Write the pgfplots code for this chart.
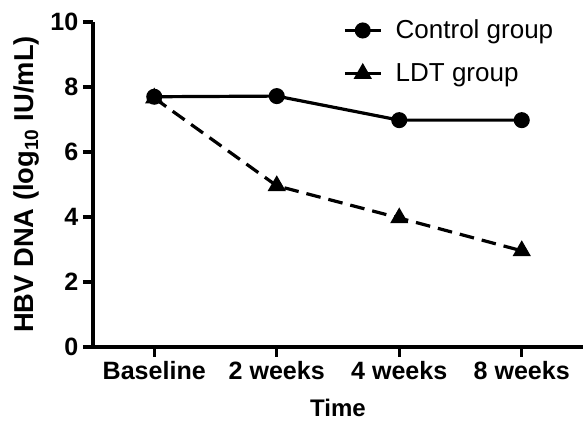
\documentclass[border=0pt]{standalone}
\usepackage{fontspec}
\setmainfont{Liberation Sans}
\usepackage{pgfplots}
\pgfplotsset{compat=1.18}
\begin{document}
\begin{tikzpicture}
\begin{axis}[
  scale only axis, width=367.5pt, height=243.75pt,
  xmin=-0.5, xmax=3.5, ymin=0, ymax=10,
  axis lines=left,
  axis line style={-, line width=2.4pt, black},
  xtick={0,1,2,3},
  xticklabels={Baseline, 2 weeks, 4 weeks, 8 weeks},
  ytick={0,2,4,6,8,10},
  tick align=outside,
  major tick length=7.5pt,
  tick style={line width=2.4pt, black},
  ticklabel style={font=\fontsize{18.8}{21}\selectfont\bfseries},
  /pgf/number format/assume math mode=true,
  xlabel={Time},
  ylabel={HBV DNA (log\textsubscript{10} IU/mL)},
  xlabel style={font=\fontsize{18}{21}\selectfont\bfseries, at={(axis description cs:0.5,0)}, anchor=center, yshift=-45.75pt},
  ylabel style={font=\fontsize{20.5}{23}\selectfont\bfseries, at={(axis description cs:-0.1347,0.5)}, anchor=center},
  clip=false,
  legend style={draw=none, fill=none, inner sep=0pt,
    font=\fontsize{19.5}{22}\selectfont,
    at={(rel axis cs:0.51,1.015)}, anchor=north west,
    row sep=13pt, cells={anchor=west}},
  legend image code/.code={\draw[mark repeat=2, mark phase=2, #1] plot coordinates {(0pt,0pt)(13.5pt,0pt)(27pt,0pt)};},
  /tikz/every odd column/.append style={column sep=8pt},
]
\addplot[black, line width=2.4pt, mark=*, mark size=4.8pt]
  coordinates {(0,7.70) (1,7.72) (2,6.98) (3,6.98)};
\addlegendentry{Control group}
\addplot[black, line width=2.4pt, dash pattern=on 11pt off 6pt, mark=triangle*, mark size=5.5pt, mark options={solid}]
  coordinates {(0,7.66) (1,4.96) (2,3.97) (3,2.96)};
\addlegendentry{LDT group}
\end{axis}
\pgfresetboundingbox
\path (-69.75pt,-55.5pt) rectangle (369.75pt,260.25pt);
\end{tikzpicture}
\end{document}
